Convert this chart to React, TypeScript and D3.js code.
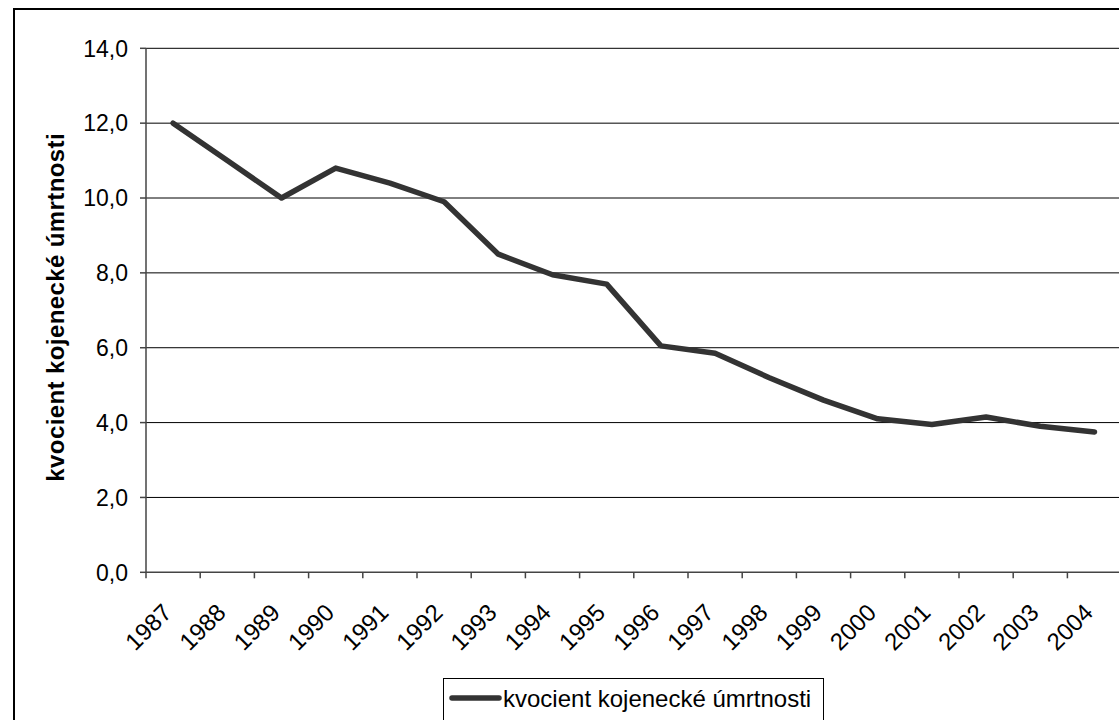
import { useEffect, useRef } from 'react';
import * as d3 from 'd3';

const years = [
  '1987', '1988', '1989', '1990', '1991', '1992', '1993', '1994', '1995',
  '1996', '1997', '1998', '1999', '2000', '2001', '2002', '2003', '2004',
];

const mortality = [
  12.0, 11.0, 10.0, 10.8, 10.4, 9.9, 8.5, 7.95, 7.7,
  6.05, 5.85, 5.2, 4.6, 4.1, 3.95, 4.15, 3.9, 3.75,
];

const yTicks = [0, 2, 4, 6, 8, 10, 12, 14];

const seriesName = 'kvocient kojenecké úmrtnosti';
const yTitle = 'kvocient kojenecké úmrtnosti';

const FONT = '"Liberation Sans", Arial, sans-serif';

export default function App() {
  const svgRef = useRef<SVGSVGElement>(null);
  const width = 1119;
  const height = 720;

  useEffect(() => {
    if (!svgRef.current) return;
    const svg = d3.select(svgRef.current);
    svg.selectAll('*').remove();

    const plot = { left: 146, right: 1121.6, top: 48.3, bottom: 572.3 };

    const x = d3.scaleBand<string>().domain(years).range([plot.left, plot.right]).padding(0);
    const y = d3.scaleLinear().domain([0, 14]).range([plot.bottom, plot.top]);

    svg.append('rect')
      .attr('width', width)
      .attr('height', height)
      .attr('fill', '#fff');

    // outer chart border
    svg.append('rect')
      .attr('x', 14)
      .attr('y', 9)
      .attr('width', 1140)
      .attr('height', 760)
      .attr('fill', 'none')
      .attr('stroke', '#000')
      .attr('stroke-width', 2);

    // gridlines
    svg.append('g')
      .selectAll('line')
      .data(yTicks.filter((t) => t > 0))
      .join('line')
      .attr('x1', plot.left)
      .attr('x2', plot.right)
      .attr('y1', (d) => y(d))
      .attr('y2', (d) => y(d))
      .attr('stroke', '#000')
      .attr('stroke-width', 1);

    // y axis
    const yAxis = svg.append('g');
    yAxis.append('line')
      .attr('x1', plot.left)
      .attr('x2', plot.left)
      .attr('y1', plot.top)
      .attr('y2', plot.bottom)
      .attr('stroke', '#444')
      .attr('stroke-width', 1.5);
    yAxis.selectAll('line.tick')
      .data(yTicks)
      .join('line')
      .attr('class', 'tick')
      .attr('x1', plot.left - 6)
      .attr('x2', plot.left)
      .attr('y1', (d) => y(d))
      .attr('y2', (d) => y(d))
      .attr('stroke', '#444')
      .attr('stroke-width', 1.5);
    yAxis.selectAll('text')
      .data(yTicks)
      .join('text')
      .attr('x', 128)
      .attr('y', (d) => y(d))
      .attr('dy', '0.36em')
      .attr('text-anchor', 'end')
      .attr('font-family', FONT)
      .attr('font-size', 23)
      .attr('fill', '#000')
      .text((d) => d3.format('.1f')(d).replace('.', ','));

    // x axis
    const xAxis = svg.append('g');
    xAxis.append('line')
      .attr('x1', plot.left)
      .attr('x2', plot.right)
      .attr('y1', plot.bottom)
      .attr('y2', plot.bottom)
      .attr('stroke', '#444')
      .attr('stroke-width', 1.5);
    const bounds = years.map((d) => x(d) as number).concat([plot.right]);
    xAxis.selectAll('line.tick')
      .data(bounds)
      .join('line')
      .attr('class', 'tick')
      .attr('x1', (d) => d)
      .attr('x2', (d) => d)
      .attr('y1', plot.bottom)
      .attr('y2', plot.bottom + 6)
      .attr('stroke', '#444')
      .attr('stroke-width', 1.5);
    xAxis.selectAll('text')
      .data(years)
      .join('text')
      .attr('transform', (d) => {
        const cx = (x(d) as number) + x.bandwidth() / 2;
        return `translate(${cx},614) rotate(-45)`;
      })
      .attr('text-anchor', 'end')
      .attr('font-family', FONT)
      .attr('font-size', 24)
      .attr('fill', '#000')
      .text((d) => d);

    // y axis title
    svg.append('text')
      .attr('transform', `translate(64,${(plot.top + plot.bottom) / 2 - 3}) rotate(-90)`)
      .attr('text-anchor', 'middle')
      .attr('font-family', FONT)
      .attr('font-size', 24)
      .attr('font-weight', 'bold')
      .attr('letter-spacing', 0.4)
      .attr('fill', '#000')
      .text(yTitle);

    // data line
    const line = d3.line<number>()
      .x((_, i) => (x(years[i]) as number) + x.bandwidth() / 2)
      .y((d) => y(d));

    svg.append('path')
      .datum(mortality)
      .attr('d', line)
      .attr('fill', 'none')
      .attr('stroke', '#333')
      .attr('stroke-width', 5.5)
      .attr('stroke-linejoin', 'round')
      .attr('stroke-linecap', 'round');

    // legend
    const legend = svg.append('g');
    legend.append('rect')
      .attr('x', 443.5)
      .attr('y', 678.5)
      .attr('width', 380)
      .attr('height', 60)
      .attr('fill', '#fff')
      .attr('stroke', '#000')
      .attr('stroke-width', 1);
    legend.append('line')
      .attr('x1', 452)
      .attr('x2', 499)
      .attr('y1', 698)
      .attr('y2', 698)
      .attr('stroke', '#333')
      .attr('stroke-width', 5.5)
      .attr('stroke-linecap', 'round');
    legend.append('text')
      .attr('x', 503)
      .attr('y', 698)
      .attr('dy', '0.36em')
      .attr('font-family', FONT)
      .attr('font-size', 24)
      .attr('fill', '#000')
      .text(seriesName);
  }, []);

  return (
    <svg
      ref={svgRef}
      width={width}
      height={height}
      style={{ position: 'absolute', left: 0, top: 0, display: 'block' }}
    />
  );
}
